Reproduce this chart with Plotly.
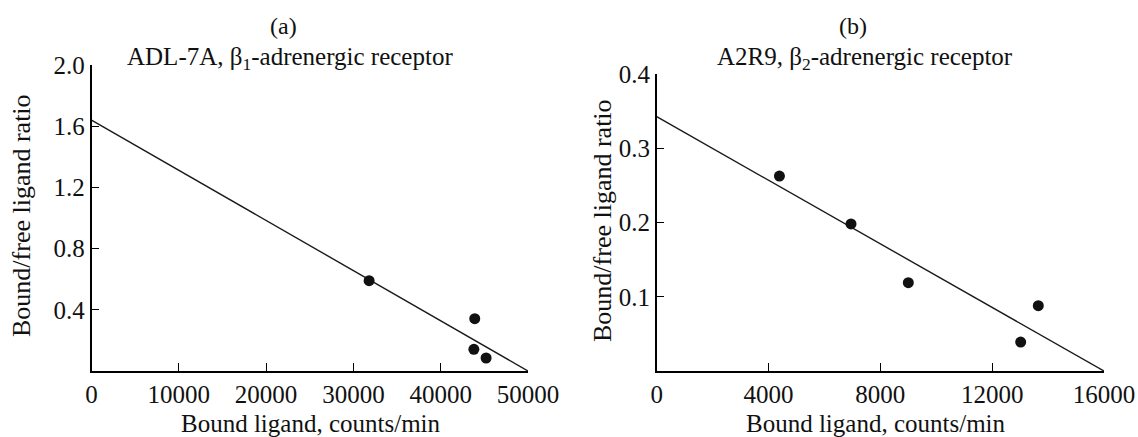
import plotly.graph_objects as go

# Panel (a)
a_x = [31800, 43900, 43800, 45200]
a_y = [0.59, 0.342, 0.142, 0.085]
a_fit_x = [0, 50000]
a_fit_y = [1.64, 0.0]
a_xticks = [0, 10000, 20000, 30000, 40000, 50000]
a_yticks = [0.4, 0.8, 1.2, 1.6, 2.0]

# Panel (b)
b_x = [4390, 6950, 9000, 13650, 13020]
b_y = [0.2625, 0.198, 0.119, 0.088, 0.039]
b_fit_x = [0, 16000]
b_fit_y = [0.3425, 0.0]
b_xticks = [0, 4000, 8000, 12000, 16000]
b_yticks = [0.1, 0.2, 0.3, 0.4]

FONT = "Liberation Serif"
FS = 25
W, H = 1138, 437
TXT = "#111111"

fig = go.Figure()
fig.add_trace(go.Scatter(x=a_fit_x, y=a_fit_y, mode="lines",
                         line=dict(color="#1a1a1a", width=1.4), xaxis="x", yaxis="y", cliponaxis=False))
fig.add_trace(go.Scatter(x=a_x, y=a_y, mode="markers",
                         marker=dict(color="#111111", size=11), xaxis="x", yaxis="y", cliponaxis=False))
fig.add_trace(go.Scatter(x=b_fit_x, y=b_fit_y, mode="lines",
                         line=dict(color="#1a1a1a", width=1.4), xaxis="x2", yaxis="y2", cliponaxis=False))
fig.add_trace(go.Scatter(x=b_x, y=b_y, mode="markers",
                         marker=dict(color="#111111", size=11), xaxis="x2", yaxis="y2", cliponaxis=False))

def px_x(p):
    return p / W

def px_y(p):
    return (H - p) / H

axis_common = dict(showline=True, linecolor="black", linewidth=1.5, ticks="inside",
                   ticklen=8, tickwidth=1.3, tickcolor="black", showgrid=False, zeroline=False,
                   automargin=False,
                   tickfont=dict(family=FONT, size=FS, color=TXT))

def ann(text, x, y, angle=0, size=FS):
    return dict(text=text, x=px_x(x), y=px_y(y), xref="paper", yref="paper",
                showarrow=False, textangle=angle, xanchor="center", yanchor="middle",
                font=dict(family=FONT, size=size, color=TXT))

fig.update_layout(
    width=W, height=H,
    margin=dict(l=0, r=0, t=0, b=0, autoexpand=False),
    paper_bgcolor="white", plot_bgcolor="white",
    showlegend=False,
    xaxis=dict(domain=[px_x(91.5), px_x(528)], range=[0, 50000], tickvals=a_xticks,
               ticktext=[str(v) for v in a_xticks], anchor="y", **axis_common),
    yaxis=dict(domain=[px_y(371), px_y(65)], range=[0, 2.0], tickvals=a_yticks,
               ticktext=["%.1f" % v for v in a_yticks], anchor="x", **axis_common),
    xaxis2=dict(domain=[px_x(656.7), px_x(1104)], range=[0, 16000], tickvals=b_xticks,
                ticktext=[str(v) for v in b_xticks], anchor="y2", **axis_common),
    yaxis2=dict(domain=[px_y(371), px_y(74)], range=[0, 0.4], tickvals=b_yticks,
                ticktext=["%.1f" % v for v in b_yticks], anchor="x2", **axis_common),
    annotations=[
        ann("(a)", 283, 26, size=24),
        ann("ADL-7A, β<sub>1</sub>-adrenergic receptor", 290, 58, size=25),
        ann("(b)", 853, 26, size=24),
        ann("A2R9, β<sub>2</sub>-adrenergic receptor", 865, 58, size=25),
        ann("Bound ligand, counts/min", 311, 423, size=25),
        ann("Bound ligand, counts/min", 876, 423, size=25),
        ann("Bound/free ligand ratio", 22, 216, -90, size=26),
        ann("Bound/free ligand ratio", 602, 221, -90, size=26),
    ],
)

fig.write_html("out.html")
